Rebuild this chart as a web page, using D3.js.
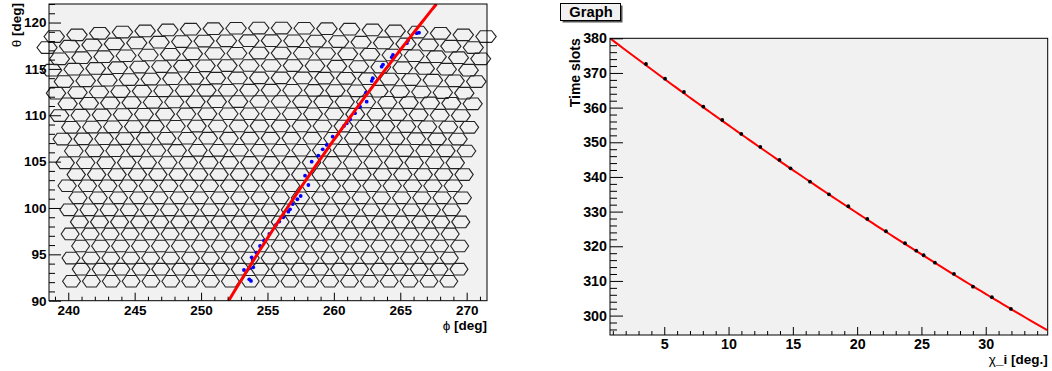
<!DOCTYPE html>
<html><head><meta charset="utf-8">
<script src="https://cdn.jsdelivr.net/npm/d3@7"></script>
<style>
body{margin:0;background:#fff;}
svg{display:block;}
text{font-family:"Liberation Sans",Arial,Helvetica,sans-serif;font-weight:bold;fill:#000;}
</style></head><body>
<svg id="c" width="1052" height="371"></svg>
<script>
// ---------- left panel data ----------
const phiTicks = [240, 245, 250, 255, 260, 265, 270];
const thetaTicks = [90, 95, 100, 105, 110, 115, 120];
const hitPhi = [266.41,266.24,265.58,265.49,264.45,264.36,263.70,263.60,262.93,262.85,262.42,262.47,261.97,261.59,261.22,260.97,260.76,259.91,259.46,259.16,258.83,258.33,257.83,258.08,257.50,257.25,256.90,256.70,256.57,256.19,255.89,255.64,255.14,254.74,254.44,254.17,253.81,253.93,253.23,253.63,253.63,253.76,253.89];
const hitTheta = [118.91,118.85,118.05,117.77,116.51,116.26,115.47,115.24,113.99,113.70,112.44,111.47,110.93,110.22,109.57,109.14,108.85,107.69,106.80,106.33,105.64,104.99,103.48,102.48,101.29,100.94,100.43,99.86,99.60,99.00,98.53,98.17,97.20,96.47,95.90,95.18,94.68,93.60,93.31,93.50,92.31,92.13,94.39];
// track fit: phi = c0 + c1*(theta-90) + c2*(theta-90)^2
const trackFit = [252.08, 0.4184, 0.0022];
// detector cells (rows of hexagonal crystals)
const hexRowTheta = [92.1,93.4,94.6,95.9,97.2,98.5,99.8,101.1,102.4,103.6,104.9,106.2,107.5,108.8,110.1,111.4,112.6,113.9,115.2,116.5,117.8,119.1];
const hexRowStep  = [1.495,1.497,1.499,1.502,1.506,1.511,1.516,1.523,1.530,1.537,1.546,1.556,1.567,1.578,1.591,1.605,1.618,1.634,1.651,1.669,1.689,1.711];
const hexRowMid   = [254.45,255.2,254.45,255.2,254.45,255.2,254.45,255.2,254.45,255.2,254.45,255.2,254.45,255.2,254.45,255.2,254.45,255.2,254.45,255.2,254.45,255.2];
const hexRowCount = [20,20,20,20,20,20,20,20,20,20,20,20,20,20,20,20,20,20,20,20,20,20];
const hexRowBend  = [0,0,0,0,0,0,0,0,0,0,0.05,0.08,0.1,0.15,0.2,0.25,0.32,0.4,0.5,0.62,0.75,0.92];

// ---------- right panel data ----------
const chiTicks = [5, 10, 15, 20, 25, 30];
const slotTicks = [300, 310, 320, 330, 340, 350, 360, 370, 380];
const chiValues = [3.58,5.06,6.53,8.04,9.51,10.99,12.47,13.96,14.82,16.33,17.81,19.31,20.79,22.24,23.72,24.60,25.17,26.05,27.53,29.01,30.48,31.96];
const timeSlots = [372.59,368.35,364.51,360.27,356.43,352.40,348.65,344.90,342.50,338.64,335.00,331.54,327.88,324.33,320.87,318.74,317.41,315.27,312.02,308.35,305.30,301.92];
// fit: T = c0 + c1*chi + c2*chi^2
const timeFit = [382.20, -2.8288, 0.009894];

const svg = d3.select("#c");
svg.append("rect").attr("width",1052).attr("height",371).attr("fill","#fff");

// ================= LEFT PANEL =================
const L = {x0:49, x1:487, y0:4, y1:300.7};
const xL = d3.scaleLinear().domain([238.55, 271.53]).range([L.x0, L.x1]);
const yL = d3.scaleLinear().domain([90, 122]).range([L.y1, L.y0]);
const gL = svg.append("g");
gL.append("rect").attr("x",L.x0).attr("y",L.y0).attr("width",L.x1-L.x0).attr("height",L.y1-L.y0).attr("fill","#f1f1f1");

// hexagons
const hexes = [];
hexRowTheta.forEach((th, r) => {
  const step = hexRowStep[r], n = hexRowCount[r], mid = hexRowMid[r];
  const half = (n-1)/2*step;
  for (let i = 0; i < n; i++) {
    const ph = mid - half + i*step;
    const u = (ph - mid)/half;
    const tc = th + hexRowBend[r]*(1/3 - u*u);
    hexes.push({ph, th:tc, step});
  }
});
const hexPath = h => {
  const hw = 0.45*h.step, ht = 0.25*h.step, hh = 0.625;
  const pts = [[h.ph-hw,h.th],[h.ph-ht,h.th+hh],[h.ph+ht,h.th+hh],[h.ph+hw,h.th],[h.ph+ht,h.th-hh],[h.ph-ht,h.th-hh]];
  return "M" + pts.map(p => xL(p[0]).toFixed(2)+","+yL(p[1]).toFixed(2)).join("L") + "Z";
};
gL.append("g").selectAll("path").data(hexes).join("path")
  .attr("d", hexPath).attr("fill","none").attr("stroke","#222").attr("stroke-width",1.1);

// hits
gL.append("g").selectAll("circle").data(hitPhi.map((p,i)=>[p,hitTheta[i]])).join("circle")
  .attr("cx",d=>xL(d[0])).attr("cy",d=>yL(d[1])).attr("r",1.9).attr("fill","#0000ff");

// fit curve
svg.append("clipPath").attr("id","clipL").append("rect")
  .attr("x",L.x0).attr("y",L.y0).attr("width",L.x1-L.x0).attr("height",L.y1-L.y0);
const thetaSamples = d3.range(0, 101).map(k => 90 + k*0.32);
gL.append("path").attr("clip-path","url(#clipL)")
  .datum(thetaSamples)
  .attr("d", d3.line().x(t => xL(trackFit[0] + trackFit[1]*(t-90) + trackFit[2]*(t-90)*(t-90))).y(t => yL(t)))
  .attr("fill","none").attr("stroke","#ff0000").attr("stroke-width",3);

gL.append("rect").attr("x",L.x0).attr("y",L.y0).attr("width",L.x1-L.x0).attr("height",L.y1-L.y0)
  .attr("fill","none").attr("stroke","#000").attr("stroke-width",1);

function styleAxis(g, fs) {
  g.select(".domain").remove();
  g.selectAll("line").attr("stroke","#000").attr("stroke-width",1);
  g.selectAll("text").attr("font-size",fs).attr("font-family",null).attr("fill","#000");
}
// left axes
const phiMinor = d3.range(239, 272).filter(v => v % 5 !== 0);
const thetaMinor = d3.range(90, 123).filter(v => v % 5 !== 0);
styleAxis(gL.append("g").attr("transform",`translate(0,${L.y1})`)
  .call(d3.axisBottom(xL).tickValues(phiMinor).tickSize(-4).tickFormat("")), 13.5);
styleAxis(gL.append("g").attr("transform",`translate(0,${L.y1})`)
  .call(d3.axisBottom(xL).tickValues(phiTicks).tickSize(-8).tickPadding(4.5)), 13.5);
styleAxis(gL.append("g").attr("transform",`translate(${L.x0},0)`)
  .call(d3.axisLeft(yL).tickValues(thetaMinor).tickSize(-6).tickFormat("")), 13.5);
styleAxis(gL.append("g").attr("transform",`translate(${L.x0},0)`)
  .call(d3.axisLeft(yL).tickValues(thetaTicks).tickSize(-12).tickPadding(2.5)), 13.5);

// left titles
const tY = gL.append("text").attr("transform",`translate(20.5,${L.y0-1}) rotate(-90)`)
  .attr("text-anchor","end").attr("font-size",13.5);
tY.append("tspan").attr("font-weight","normal").text("θ");
tY.append("tspan").text("  [deg]");
const tX = gL.append("text").attr("x",L.x1).attr("y",329.5).attr("text-anchor","end").attr("font-size",13.5);
tX.append("tspan").attr("font-weight","normal").text("ϕ");
tX.append("tspan").text("  [deg]");

// ================= RIGHT PANEL =================
const R = {x0:610, x1:1047.7, y0:38.3, y1:335};
const xR = d3.scaleLinear().domain([0.78, 34.82]).range([R.x0, R.x1]);
const yR = d3.scaleLinear().domain([294.4, 380]).range([R.y1, R.y0]);
const gR = svg.append("g");
gR.append("rect").attr("x",R.x0).attr("y",R.y0).attr("width",R.x1-R.x0).attr("height",R.y1-R.y0).attr("fill","#f1f1f1");

svg.append("clipPath").attr("id","clipR").append("rect")
  .attr("x",R.x0).attr("y",R.y0).attr("width",R.x1-R.x0).attr("height",R.y1-R.y0);
const chiSamples = d3.range(0, 101).map(k => 0.78 + k*0.34);
gR.append("path").attr("clip-path","url(#clipR)").datum(chiSamples)
  .attr("d", d3.line().x(c => xR(c)).y(c => yR(timeFit[0] + timeFit[1]*c + timeFit[2]*c*c)))
  .attr("fill","none").attr("stroke","#ff0000").attr("stroke-width",2);

gR.append("g").selectAll("circle").data(chiValues.map((c,i)=>[c,timeSlots[i]])).join("circle")
  .attr("cx",d=>xR(d[0])).attr("cy",d=>yR(d[1])).attr("r",1.9).attr("fill","#000");

gR.append("rect").attr("x",R.x0).attr("y",R.y0).attr("width",R.x1-R.x0).attr("height",R.y1-R.y0)
  .attr("fill","none").attr("stroke","#000").attr("stroke-width",1);

const chiMinor = d3.range(1, 35).filter(v => v % 5 !== 0);
const slotMinor = d3.range(296, 381, 2).filter(v => v % 10 !== 0);
styleAxis(gR.append("g").attr("transform",`translate(0,${R.y1})`)
  .call(d3.axisBottom(xR).tickValues(chiMinor).tickSize(-4).tickFormat("")), 14.3);
styleAxis(gR.append("g").attr("transform",`translate(0,${R.y1})`)
  .call(d3.axisBottom(xR).tickValues(chiTicks).tickSize(-8).tickPadding(4)), 14.3);
styleAxis(gR.append("g").attr("transform",`translate(${R.x0},0)`)
  .call(d3.axisLeft(yR).tickValues(slotMinor).tickSize(-7).tickFormat("")), 14.3);
styleAxis(gR.append("g").attr("transform",`translate(${R.x0},0)`)
  .call(d3.axisLeft(yR).tickValues(slotTicks).tickSize(-13).tickPadding(3)), 14.3);

gR.append("text").attr("transform",`translate(579.5,${R.y0}) rotate(-90)`)
  .attr("text-anchor","end").attr("font-size",14).text("Time slots");
const tX2 = gR.append("text").attr("x",R.x1).attr("y",364).attr("text-anchor","end").attr("font-size",13.5);
tX2.append("tspan").attr("font-weight","normal").text("χ");
tX2.append("tspan").text("_i [deg.]");

// title box
gR.append("rect").attr("x",562.5).attr("y",5.5).attr("width",60).attr("height",17).attr("fill","#555");
gR.append("rect").attr("x",560.5).attr("y",3.5).attr("width",60).attr("height",17)
  .attr("fill","#f1f1f1").attr("stroke","#000").attr("stroke-width",1);
gR.append("text").attr("x",591).attr("y",17.4).attr("text-anchor","middle").attr("font-size",14.7).text("Graph");
</script>
</body></html>
